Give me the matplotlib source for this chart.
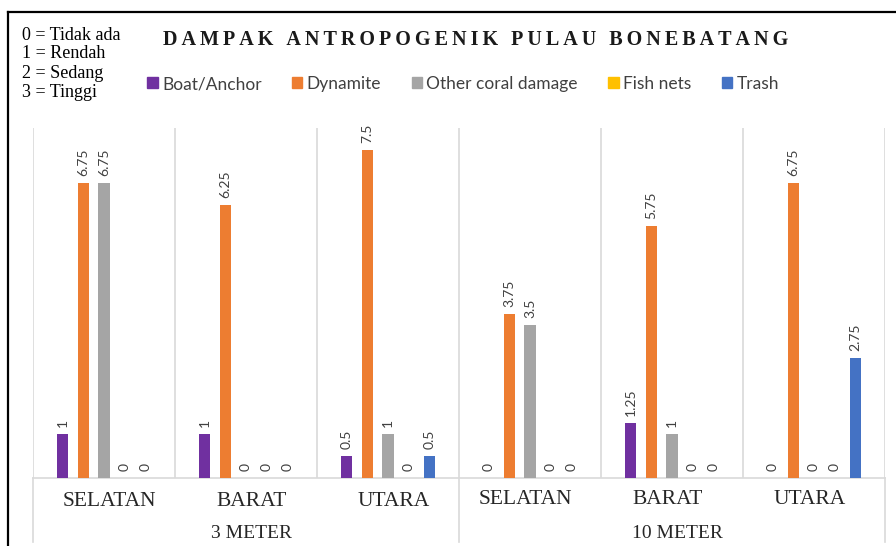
import numpy as np
import matplotlib.pyplot as plt
from matplotlib.patches import Patch
from matplotlib.lines import Line2D

# data
sites = ['SELATAN', 'BARAT', 'UTARA', 'SELATAN', 'BARAT', 'UTARA']
depths = ['3 METER', '10 METER']
series = ['Boat/Anchor', 'Dynamite', 'Other coral damage', 'Fish nets', 'Trash']
boat = [1, 1, 0.5, 0, 1.25, 0]
dynamite = [6.75, 6.25, 7.5, 3.75, 5.75, 6.75]
other = [6.75, 0, 1, 3.5, 1, 0]
fish_nets = [0, 0, 0, 0, 0, 0]
trash = [0, 0, 0.5, 0, 0, 2.75]
key_lines = ['0 = Tidak ada', '1 = Rendah', '2 = Sedang', '3 = Tinggi']

values = [boat, dynamite, other, fish_nets, trash]
colors = ['#7030A0', '#ED7D31', '#A5A5A5', '#FFC000', '#4472C4']

W, H = 896, 546
fig = plt.figure(figsize=(W / 100, H / 100), dpi=100)
ax = fig.add_axes([33 / W, 1 - 478 / H, (885 - 33) / W, 350 / H])

x = np.arange(len(sites))
step = 0.146
width = 0.078
for j, (vals, col) in enumerate(zip(values, colors)):
    pos = x + (j - 2) * step
    ax.bar(pos, vals, width=width, color=col, zorder=3)
    for px, v in zip(pos, vals):
        ax.annotate('{:g}'.format(v), (px, v), xytext=(0, 5), textcoords='offset points',
                    rotation=90, ha='center', va='bottom', fontsize=10,
                    family='Lato', color='#404040')

ax.set_xlim(-0.5, len(sites) - 0.5)
ax.set_ylim(0, 8)
ax.set_yticks([])
ax.set_xticks([])
for s in ['left', 'right', 'top']:
    ax.spines[s].set_visible(False)
ax.spines['bottom'].set_color('#d9d9d9')
ax.spines['bottom'].set_linewidth(1.2)

# category separators
grid_col = '#d9d9d9'
for b in np.arange(-0.5, len(sites), 1):
    ax.axvline(b, color=grid_col, lw=1.2, zorder=1)
trans = ax.get_xaxis_transform()
for b in [-0.5, 2.5, 5.5]:
    ax.plot([b, b], [0, -64 / 350], color=grid_col, lw=1.2, transform=trans, clip_on=False)

# excel nudges the labels a little in each depth block
for i, s in enumerate(sites):
    dx = 0.04 if i < 3 else -0.03
    dy = -24 if i < 3 else -21
    ax.text(i + dx, dy / 350, s, transform=trans, ha='center', va='center',
            fontsize=15.5, family='Liberation Serif', color='#262626')
for k, d in enumerate(depths):
    ax.text(k * 3 + 1.04, -56 / 350, d, transform=trans, ha='center', va='center',
            fontsize=14, family='Liberation Serif', color='#262626')

# legend
handles = [Patch(color=c, label=l) for c, l in zip(colors, series)]
fig.legend(handles=handles, loc='center', bbox_to_anchor=(463 / W, 1 - 84 / H), ncol=5,
           frameon=False, borderpad=0, handlelength=0.6, handleheight=0.6,
           handletextpad=0.25, columnspacing=1.75, prop={'family': 'Lato', 'size': 12.5},
           labelcolor='#404040')

# title
title = 'DAMPAK ANTROPOGENIK PULAU BONEBATANG'
spaced = '\u2009'.join(title)
fig.text(476 / W, 1 - 40 / H, spaced, ha='center', va='center', fontsize=14.5,
         fontweight='bold', family=['Liberation Serif', 'DejaVu Serif'], color='#1a1a1a')

# key text box
for n, line in enumerate(key_lines):
    fig.text(22 / W, 1 - (35 + 19 * n) / H, line, ha='left', va='center', fontsize=13,
             family='Liberation Serif', color='black')

# border
fig.add_artist(Line2D([8 / W, 8 / W], [0, 1 - 12 / H], color='black', lw=1.6,
                      transform=fig.transFigure))
fig.add_artist(Line2D([8 / W, 1], [1 - 12 / H, 1 - 12 / H], color='black', lw=1.6,
                      transform=fig.transFigure))

fig.savefig('out.png', dpi=100)
